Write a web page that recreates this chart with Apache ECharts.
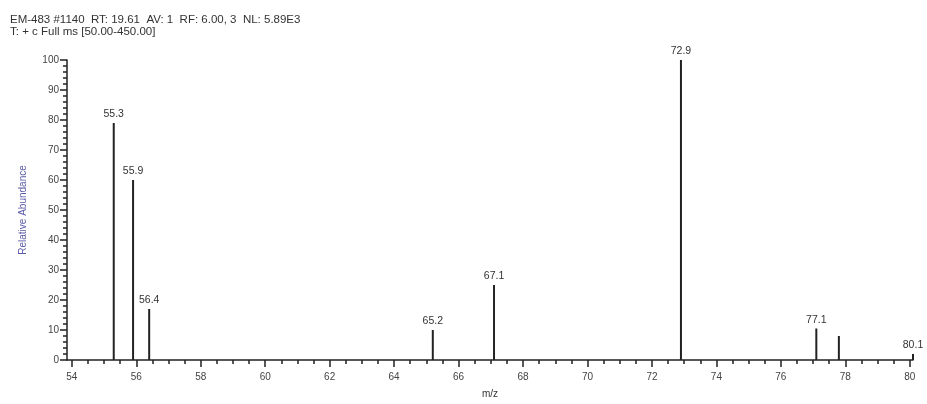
<!DOCTYPE html>
<html>
<head>
<meta charset="utf-8">
<script src="https://cdn.jsdelivr.net/npm/echarts@6/dist/echarts.min.js"></script>
<style>html,body{margin:0;padding:0;background:#fff;}#c{width:927px;height:404px;}</style>
</head>
<body>
<div id="c"></div>
<script>
const mzValues = [55.3, 55.9, 56.4, 65.2, 67.1, 72.9, 77.1, 77.8, 80.1];
const abundance = [79, 60, 17, 10, 25, 100, 10.5, 8, 2];
const labelled = [true, true, true, true, true, true, true, false, true];
const xMajorTicks = [54, 56, 58, 60, 62, 64, 66, 68, 70, 72, 74, 76, 78, 80];
const xMinorTicks = [54.5, 55, 55.5, 56.5, 57, 57.5, 58.5, 59, 59.5, 60.5, 61, 61.5, 62.5, 63, 63.5, 64.5, 65, 65.5, 66.5, 67, 67.5, 68.5, 69, 69.5, 70.5, 71, 71.5, 72.5, 73, 73.5, 74.5, 75, 75.5, 76.5, 77, 77.5, 78.5, 79, 79.5];
const titleLine1 = 'EM-483 #1140  RT: 19.61  AV: 1  RF: 6.00, 3  NL: 5.89E3';
const titleLine2 = 'T: + c Full ms [50.00-450.00]';

const chart = echarts.init(document.getElementById('c'), null, {renderer: 'canvas'});
const font = 'Liberation Sans, Arial, sans-serif';
const data = mzValues.map((m, i) => ({
  value: [m, abundance[i]],
  label: {show: labelled[i]}
}));
const xCommon = {
  type: 'value', min: 53.85, max: 80.1, gridIndex: 0,
  splitLine: {show: false}
};
chart.setOption({
  backgroundColor: '#ffffff',
  animation: false,
  title: [
    {text: titleLine1, left: 5, top: 9, textStyle: {fontFamily: font, fontSize: 11.5, fontWeight: 'normal', color: '#333'}},
    {text: titleLine2, left: 5, top: 21, textStyle: {fontFamily: font, fontSize: 11.5, fontWeight: 'normal', color: '#333'}}
  ],
  grid: {left: 67, right: 14, top: 60, bottom: 37, containLabel: false},
  xAxis: [
    Object.assign({}, xCommon, {
      name: 'm/z', nameLocation: 'middle', nameGap: 29,
      nameTextStyle: {fontFamily: font, fontSize: 10, color: '#333'},
      axisLine: {show: true, lineStyle: {color: '#222', width: 1.5}},
      axisTick: {show: true, length: 7, customValues: xMajorTicks, lineStyle: {color: '#222', width: 1.5}},
      axisLabel: {show: true, customValues: xMajorTicks, fontFamily: font, fontSize: 10, color: '#444', margin: 12}
    }),
    Object.assign({}, xCommon, {
      position: 'bottom',
      axisLine: {show: false},
      axisTick: {show: true, length: 4, customValues: xMinorTicks, lineStyle: {color: '#222', width: 1.5}},
      axisLabel: {show: false}
    })
  ],
  yAxis: {
    type: 'value', min: 0, max: 100, interval: 10,
    name: 'Relative Abundance', nameLocation: 'middle', nameGap: 39,
    nameTextStyle: {fontFamily: font, fontSize: 10, color: '#5a5aa8'},
    axisLine: {show: true, lineStyle: {color: '#222', width: 1.5}},
    axisTick: {show: true, length: 7, lineStyle: {color: '#222', width: 1.5}},
    minorTick: {show: true, splitNumber: 5, length: 4, lineStyle: {color: '#222', width: 1.5}},
    axisLabel: {fontFamily: font, fontSize: 10, color: '#444', margin: 8},
    splitLine: {show: false}
  },
  series: [{
    type: 'bar',
    xAxisIndex: 0,
    data: data,
    barWidth: 2,
    itemStyle: {color: '#222'},
    label: {
      position: 'top', distance: 3,
      fontFamily: font, fontSize: 10.5, color: '#333',
      formatter: p => p.value[0].toFixed(1)
    }
  }]
});
</script>
</body>
</html>
